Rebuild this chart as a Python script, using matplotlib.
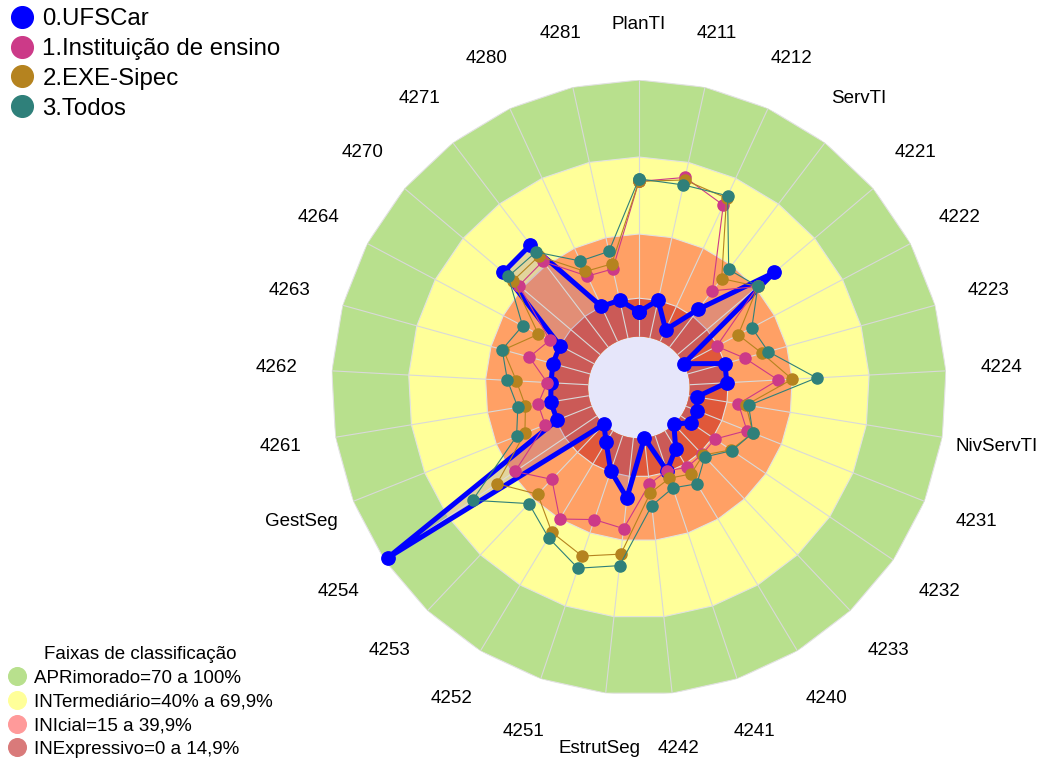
import numpy as np
import matplotlib
matplotlib.use("Agg")
import matplotlib.pyplot as plt
from matplotlib.lines import Line2D
from matplotlib.patches import Circle

plt.rcParams["font.family"] = ["Liberation Sans", "DejaVu Sans"]

categories = ["PlanTI", "4211", "4212", "ServTI", "4221", "4222", "4223", "4224",
              "NivServTI", "4231", "4232", "4233", "4240", "4241", "4242",
              "EstrutSeg", "4251", "4252", "4253", "4254", "GestSeg", "4261",
              "4262", "4263", "4264", "4270", "4271", "4280", "4281"]

# % por indicador
ufscar = [9.7, 15, 5, 18.5, 49.5, 0, 15, 14.5, 3, 4.5, 4.5, 0, 8, 14.5, 0,
          23.5, 14.5, 5, 0, 98.5, 14.5, 15, 14.5, 15, 15, 49.5, 50, 15, 15]
instituicao = [60.5, 64, 58.5, 27.5, 41, 14.5, 23, 34.5, 19.5, 25.5, 16, 16, 16.5, 14.5, 18,
               35.5, 34.5, 40, 29.5, 38.5, 19.5, 20, 16, 24.5, 19.5, 41.5, 42, 28, 27.5]
exe_sipec = [60.5, 63, 61.5, 33.5, 41, 24, 30, 40, 22.5, 28, 23.5, 16.5, 19.5, 17.5, 21.5,
             45.5, 49.5, 46, 37.5, 47, 28, 25, 28, 35, 24.5, 44.5, 44.5, 30, 29.5]
todos = [61.5, 61, 62.5, 38, 41, 30, 32.5, 49.5, 23.5, 28, 24, 17.5, 24, 21.5, 26.5,
         50, 54.5, 48.5, 42.5, 58.5, 31.5, 28, 31.5, 35.5, 31.5, 47, 46.5, 34.5, 34.5]

series_names = ["0.UFSCar", "1.Instituição de ensino", "2.EXE-Sipec", "3.Todos"]
series_colors = ["#0000FF", "#CC3A88", "#B5831F", "#2F807A"]

band_limits = [100, 70, 40, 15]
band_colors = ["#B8E08D", "#FFFF99", "#FFA065", "#E0583A"]
band_labels = ["APRimorado=70 a 100%", "INTermediário=40% a 69,9%",
               "INIcial=15 a 39,9%", "INExpressivo=0 a 14,9%"]
band_legend_colors = ["#B8E08D", "#FFFF99", "#FF9A9A", "#D97A7A"]

hole = 19.8  # raio do buraco central, em unidades de %

n = len(categories)
theta = np.linspace(0, 2 * np.pi, n, endpoint=False)
theta_c = np.append(theta, theta[0])


def closed(v):
    return np.append(v, v[0])


fig = plt.figure(figsize=(10.41, 7.58), dpi=100)
cx, cy, R = 638.9 / 1041, 1 - 387.5 / 758, 307.5
w, h = 2 * R / 1041, 2 * R / 758
ax = fig.add_axes([cx - w / 2, cy - h / 2, w, h], projection="polar")
ax.set_theta_zero_location("N")
ax.set_theta_direction(-1)
ax.set_ylim(0, 100)
ax.set_rorigin(-hole)

# faixas de classificacao
for lim, col in zip(band_limits, band_colors):
    ax.fill(theta_c, [lim] * (n + 1), color=col, ec="#E2E2E2", lw=0.8, zorder=1)

ax.add_patch(Circle((0.5, 0.5), 0.5 * hole / (100 + hole), transform=ax.transAxes,
                    facecolor="#E6E6FA", edgecolor="none", lw=0, zorder=0.5, clip_on=False))

ax.set_xticks(theta)
ax.set_xticklabels([])
ax.set_yticks([])
ax.grid(True, color="#D9D9D9", lw=0.8)
ax.tick_params(length=0)

ax.fill(theta_c, closed(ufscar), color=(0.59, 0.38, 0.65), alpha=0.27, lw=0, zorder=1.2)

all_series = [ufscar, instituicao, exe_sipec, todos]
for i, (vals, col) in enumerate(zip(all_series, series_colors)):
    if i == 0:
        ax.plot(theta_c, closed(vals), color=col, lw=3.6, marker="o", ms=9.6,
                zorder=3, clip_on=False)
    else:
        ax.plot(theta_c, closed(vals), color=col, lw=0.8, marker="o", ms=8,
                zorder=3 + i, clip_on=False)

for t, lab in zip(theta, categories):
    ax.text(t, 121.6, lab, ha="center", va="center", fontsize=13.5, clip_on=False)

for name in ["polar", "start", "end", "inner"]:
    if name in ax.spines:
        ax.spines[name].set_visible(False)
        ax.spines[name].set_color("none")

h1 = [Line2D([], [], ls="", marker="o", ms=15.6, color=c) for c in series_colors]
fig.legend(h1, series_names, loc="upper left", bbox_to_anchor=(10.2 / 1041, 1 - 8 / 758),
           frameon=False, fontsize=17.3, handlelength=1, handletextpad=0.34,
           labelspacing=0.33, borderpad=0, borderaxespad=0)

h2 = [Line2D([], [], ls="", marker="o", ms=12.7, color=c) for c in band_legend_colors]
fig.legend(h2, band_labels, title="Faixas de classificação", title_fontsize=13.5,
           loc="lower left", bbox_to_anchor=(7.3 / 1041, 0), frameon=False,
           fontsize=13.5, handlelength=1, handletextpad=0.42, labelspacing=0.35,
           borderpad=0, borderaxespad=0)

fig.savefig("out.png", dpi=100)
